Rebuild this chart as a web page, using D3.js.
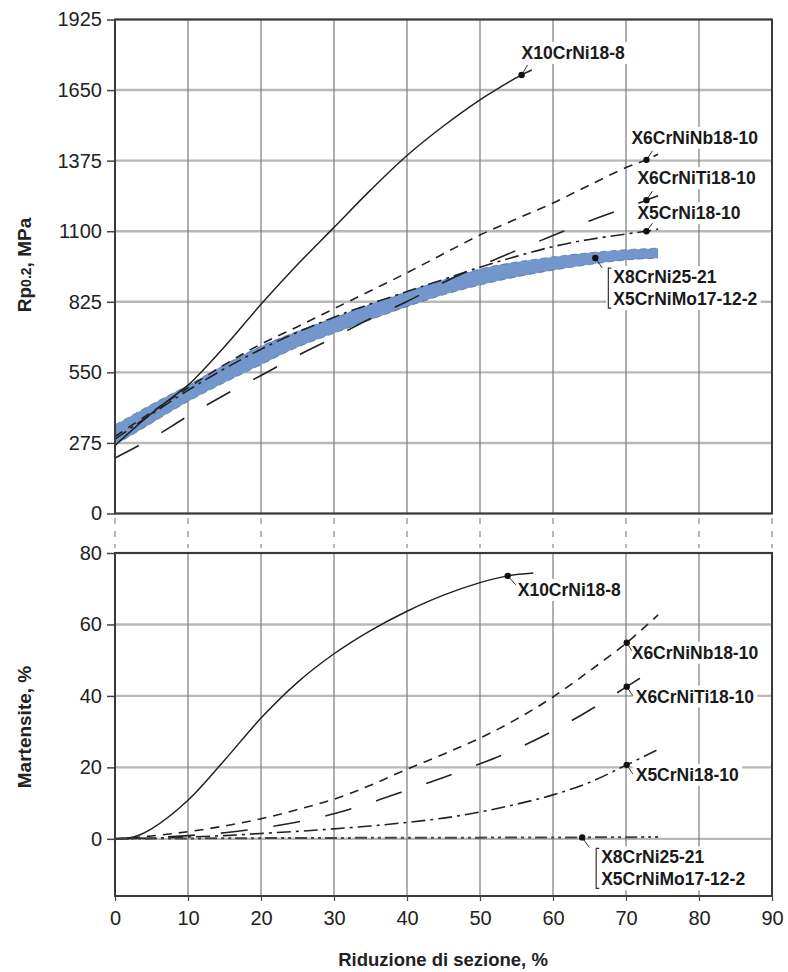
<!DOCTYPE html>
<html>
<head>
<meta charset="utf-8">
<script src="https://cdn.jsdelivr.net/npm/d3@7"></script>
<style>
  html, body { margin: 0; padding: 0; background: #fff; }
  svg { display: block; font-family: "Liberation Sans", Arial, sans-serif; }
</style>
</head>
<body>
<svg id="chart" width="788" height="972"></svg>
<script>
// Cold reduction (%) vs. yield strength and martensite content of austenitic steels

const xTicks = [0, 10, 20, 30, 40, 50, 60, 70, 80, 90];
const rpTicks = [0, 275, 550, 825, 1100, 1375, 1650, 1925];
const martTicks = [0, 20, 40, 60, 80];

// Rp0.2 (MPa) vs reduction (%)
const rpX10CrNi18_8 = [[0,265],[5,390],[10,500],[11.2,533],[15,650],[20,815],[25,970],[30,1115],[35,1260],[40,1395],[45,1510],[50,1612],[53,1665],[55.7,1709],[57.1,1728]];
const rpX6CrNiNb18_10 = [[0,300],[5,395],[10,490],[15,580],[20,660],[25,728],[30,798],[35,868],[40,938],[45,1012],[50,1085],[55,1148],[60,1210],[65,1280],[70,1348],[72.8,1378],[74.4,1400]];
const rpX6CrNiTi18_10 = [[0,216],[5,292],[10,380],[15,462],[20,538],[25,615],[30,686],[35,760],[40,826],[45,900],[50,965],[55,1025],[60,1083],[65,1140],[70,1192],[72.8,1221],[74.4,1238]];
const rpX5CrNi18_10 = [[0,290],[10,480],[20,640],[30,765],[40,865],[45,912],[50,960],[55,1002],[60,1040],[65,1068],[70,1089],[72.8,1100],[74.4,1108]];
// band covering X8CrNi25-21 and X5CrNiMo17-12-2
const bandReduction = [0,5,10,15,20,25,30,35,40,45,50,55,60,65,70,74.4];
const bandUpper = [345,425,500,580,652,710,762,815,864,910,953,980,1000,1016,1028,1034];
const bandLower = [267,352,436,510,580,648,702,755,806,852,890,922,948,970,988,995];

// Martensite (%) vs reduction (%)
const mX10CrNi18_8 = [[0,0],[2.5,0.5],[5,2.8],[10,10.8],[15,22],[20,33.8],[25,43.8],[30,51.8],[35,58.3],[40,63.7],[45,68.2],[50,71.7],[53.8,73.6],[57.3,74.4]];
const mX6CrNiNb18_10 = [[0,0],[5,0.8],[10,2.0],[15,3.6],[20,5.6],[25,8.2],[30,11.1],[35,15],[40,19.5],[45,23.7],[50,28.2],[55,33.5],[60,39.7],[65,47],[70.1,54.9],[74.4,62.7]];
const mX6CrNiTi18_10 = [[0,0],[5,0.3],[10,0.9],[15,1.7],[20,3.0],[25,4.7],[30,7.0],[35,10.1],[40,13.6],[45,17.2],[50,21],[55,25.2],[60,30.2],[65,36],[70.1,42.6],[73,46.4]];
const mX5CrNi18_10 = [[0,0],[5,0.2],[10,0.5],[15,0.9],[20,1.5],[25,2.1],[30,2.8],[35,3.6],[40,4.6],[45,5.8],[50,7.5],[55,9.7],[60,12.3],[65,15.8],[70.1,20.7],[74.4,25]];
const mX8CrNi25_21 = [[0,0],[20,0.2],[40,0.3],[64,0.4],[74.4,0.5]];

const svg = d3.select("#chart");
const FONT = '"Liberation Sans", Arial, sans-serif';

const x = d3.scaleLinear().domain([0, 90]).range([115, 772]);
const yTop = d3.scaleLinear().domain([0, 1925]).range([513.5, 19.5]);
const yBot = d3.scaleLinear().domain([-16, 80]).range([896, 553]);

const gridLayer = svg.append("g");
const bgLayer = svg.append("g");
const dataLayer = svg.append("g");
const frameLayer = svg.append("g");
const labelLayer = svg.append("g");

function panel(y, ticks) {
  const [y0, y1] = y.range();
  // horizontal grid
  gridLayer.append("g").selectAll("line").data(ticks).join("line")
    .attr("x1", x(0)).attr("x2", x(90))
    .attr("y1", d => y(d)).attr("y2", d => y(d))
    .attr("stroke", "#b8b8b8").attr("stroke-width", 2.4);
  // vertical grid
  gridLayer.append("g").selectAll("line").data(xTicks.slice(1, -1)).join("line")
    .attr("x1", d => x(d)).attr("x2", d => x(d))
    .attr("y1", y0).attr("y2", y1)
    .attr("stroke", "#7a7a7a").attr("stroke-width", 1.2);
  // y axis with labels
  const ax = d3.axisLeft(y).tickValues(ticks).tickFormat(d3.format("d")).tickSize(8).tickPadding(5);
  const g = frameLayer.append("g").attr("transform", `translate(${x(0)},0)`).call(ax);
  g.select(".domain").remove();
  g.selectAll(".tick line").attr("stroke", "#444").attr("stroke-width", 1.5);
  g.selectAll(".tick text").attr("font-family", FONT).attr("font-size", 20).attr("fill", "#222");
  // frame
  frameLayer.append("rect")
    .attr("x", x(0)).attr("y", y1).attr("width", x(90) - x(0)).attr("height", y0 - y1)
    .attr("fill", "none").attr("stroke", "#3a3a3a").attr("stroke-width", 2);
}
panel(yTop, rpTicks);
panel(yBot, martTicks);

// dashed connectors between the two panels
gridLayer.append("g").selectAll("line").data(xTicks).join("line")
  .attr("x1", d => x(d)).attr("x2", d => x(d))
  .attr("y1", 518).attr("y2", 548)
  .attr("stroke", "#888").attr("stroke-width", 1.2).attr("stroke-dasharray", "6,7");

// x axis
const xa = d3.axisBottom(x).tickValues(xTicks).tickFormat(d3.format("d")).tickSize(5).tickPadding(10);
const gx = frameLayer.append("g").attr("transform", `translate(0,${yBot(-16)})`).call(xa);
gx.select(".domain").remove();
gx.selectAll(".tick line").attr("stroke", "#444").attr("stroke-width", 1.2);
gx.selectAll(".tick text").attr("font-family", FONT).attr("font-size", 20).attr("fill", "#222");

// axis titles
labelLayer.append("text").attr("x", 443).attr("y", 966).attr("text-anchor", "middle")
  .attr("font-family", FONT).attr("font-size", 18.5).attr("font-weight", "bold").attr("fill", "#222")
  .text("Riduzione di sezione, %");
const rpTitle = labelLayer.append("text").attr("transform", "translate(31,265) rotate(-90)")
  .attr("text-anchor", "middle").attr("font-family", FONT).attr("font-size", 19)
  .attr("font-weight", "bold").attr("fill", "#222");
rpTitle.append("tspan").text("Rp");
rpTitle.append("tspan").attr("font-size", 14).text("0.2");
rpTitle.append("tspan").text(", MPa");
labelLayer.append("text").attr("transform", "translate(31,727) rotate(-90)")
  .attr("text-anchor", "middle").attr("font-family", FONT).attr("font-size", 19)
  .attr("font-weight", "bold").attr("fill", "#222").text("Martensite, %");

// band
const band = bandReduction.map((r, i) => ({ r, lo: bandLower[i], hi: bandUpper[i] }));
dataLayer.append("path").datum(band)
  .attr("d", d3.area().x(d => x(d.r)).y0(d => yTop(d.lo)).y1(d => yTop(d.hi)).curve(d3.curveMonotoneX))
  .attr("fill", "#7397cc").attr("stroke", "none");
["lo", "hi"].forEach(k => {
  dataLayer.append("path").datum(band)
    .attr("d", d3.line().x(d => x(d.r)).y(d => yTop(d[k])).curve(d3.curveMonotoneX))
    .attr("fill", "none").attr("stroke", "#3b5a8c").attr("stroke-width", 0.9)
    .attr("stroke-dasharray", "6,4").attr("opacity", 0.7);
});

const styles = {
  solid: { dash: null, w: 1.5, c: "#222" },
  short: { dash: "9,7", w: 1.6, c: "#222" },
  long: { dash: "27,26", w: 1.6, c: "#222" },
  dashdot: { dash: "14,5,3,5", w: 1.6, c: "#222" },
  dashdotdot: { dash: "12,4,3,4,3,4", w: 2, c: "#444" }
};
function drawLine(y, data, s) {
  const st = styles[s];
  dataLayer.append("path").datum(data)
    .attr("d", d3.line().x(d => x(d[0])).y(d => y(d[1])).curve(d3.curveCatmullRom.alpha(0.5)))
    .attr("fill", "none").attr("stroke", st.c).attr("stroke-width", st.w)
    .attr("stroke-dasharray", st.dash);
}
drawLine(yTop, rpX10CrNi18_8, "solid");
drawLine(yTop, rpX6CrNiNb18_10, "short");
drawLine(yTop, rpX6CrNiTi18_10, "long");
drawLine(yTop, rpX5CrNi18_10, "dashdot");
drawLine(yBot, mX10CrNi18_8, "solid");
drawLine(yBot, mX6CrNiNb18_10, "short");
drawLine(yBot, mX6CrNiTi18_10, "long");
drawLine(yBot, mX5CrNi18_10, "dashdot");
drawLine(yBot, mX8CrNi25_21, "dashdotdot");

function at(data, r) { return data.find(d => d[0] === r)[1]; }
const bandMid = r => (d3.scaleLinear().domain(bandReduction).range(bandUpper)(r) +
                      d3.scaleLinear().domain(bandReduction).range(bandLower)(r)) / 2;

// annotations: marker, leader end offset, text offset
const notes = [
  { y: yTop, r: 55.7, v: at(rpX10CrNi18_8, 55.7), lead: [6, -10], tx: 0, ty: -16, lines: ["X10CrNi18-8"] },
  { y: yTop, r: 72.8, v: at(rpX6CrNiNb18_10, 72.8), lead: [6, -9], tx: -15, ty: -16, lines: ["X6CrNiNb18-10"] },
  { y: yTop, r: 72.8, v: at(rpX6CrNiTi18_10, 72.8), lead: [6, -9], tx: -9, ty: -16, lines: ["X6CrNiTi18-10"] },
  { y: yTop, r: 72.8, v: at(rpX5CrNi18_10, 72.8), lead: [6, -8], tx: -9, ty: -12, lines: ["X5CrNi18-10"] },
  { y: yTop, r: 65.8, v: bandMid(65.8), lead: [7, 10], tx: 18, ty: 25, bracket: true, lines: ["X8CrNi25-21", "X5CrNiMo17-12-2"] },
  { y: yBot, r: 53.8, v: at(mX10CrNi18_8, 53.8), lead: [8, 9], tx: 10, ty: 20, lines: ["X10CrNi18-8"] },
  { y: yBot, r: 70.1, v: at(mX6CrNiNb18_10, 70.1), lead: [5, 8], tx: 5, ty: 16, lines: ["X6CrNiNb18-10"] },
  { y: yBot, r: 70.1, v: at(mX6CrNiTi18_10, 70.1), lead: [6, 9], tx: 9, ty: 16, lines: ["X6CrNiTi18-10"] },
  { y: yBot, r: 70.1, v: at(mX5CrNi18_10, 70.1), lead: [6, 9], tx: 9, ty: 16, lines: ["X5CrNi18-10"] },
  { y: yBot, r: 64, v: at(mX8CrNi25_21, 64), lead: [7, 10], tx: 19, ty: 26, bracket: true, lines: ["X8CrNi25-21", "X5CrNiMo17-12-2"] }
];

notes.forEach(n => {
  const px = x(n.r), py = n.y(n.v);
  const tx = px + n.tx, ty = py + n.ty;
  const t = labelLayer.append("text").attr("font-family", FONT).attr("font-size", 17.5)
    .attr("font-weight", "bold").attr("fill", "#1a1a1a");
  n.lines.forEach((s, i) => t.append("tspan").attr("x", tx).attr("y", ty + i * 22).text(s));
  const bb = t.node().getBBox();
  bgLayer.append("rect").attr("x", bb.x - 3).attr("y", bb.y - 1)
    .attr("width", bb.width + 6).attr("height", bb.height + 2).attr("fill", "#fff");
  if (n.bracket) {
    const bx = tx - 5;
    labelLayer.append("path")
      .attr("d", `M${bx + 3},${bb.y + 1}H${bx}V${bb.y + bb.height - 1}H${bx + 3}`)
      .attr("fill", "none").attr("stroke", "#333").attr("stroke-width", 1.2);
    bgLayer.append("rect").attr("x", bx - 2).attr("y", bb.y - 1).attr("width", 8).attr("height", bb.height + 2).attr("fill", "#fff");
  }
  labelLayer.append("line").attr("x1", px).attr("y1", py)
    .attr("x2", px + n.lead[0]).attr("y2", py + n.lead[1])
    .attr("stroke", "#333").attr("stroke-width", 1);
  labelLayer.append("circle").attr("cx", px).attr("cy", py).attr("r", 3.2).attr("fill", "#111");
});
</script>
</body>
</html>
